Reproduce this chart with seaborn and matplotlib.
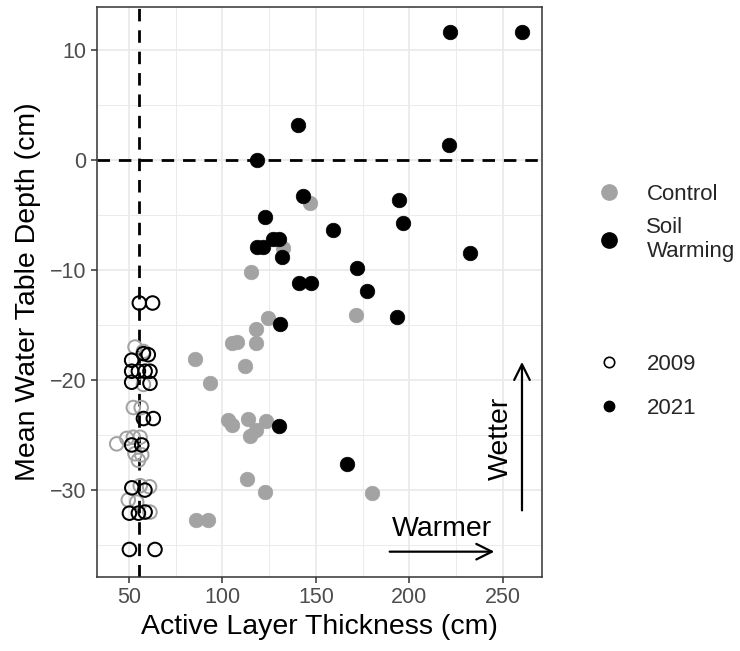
import numpy as np
import pandas as pd
import matplotlib
matplotlib.use("Agg")
import matplotlib.pyplot as plt
from matplotlib.lines import Line2D
import seaborn as sns

# ---- data ----
ctrl21_alt = [146.6, 132.5, 115.3, 171.6, 124.6, 117.9, 105.0, 108.0, 117.9, 85.4, 112.1, 93.4,
              103.0, 105.0, 113.4, 123.2, 118.0, 114.5, 113.0, 123.0, 85.9, 92.1, 180.2]
ctrl21_wtd = [-3.9, -8.0, -10.2, -14.1, -14.4, -15.4, -16.6, -16.5, -16.6, -18.1, -18.7, -20.3,
              -23.6, -24.1, -23.5, -23.7, -24.5, -25.1, -29.0, -30.2, -32.7, -32.7, -30.3]

warm21_alt = [221.9, 260.3, 140.4, 221.4, 118.7, 143.0, 194.3, 196.6, 159.1, 127.0, 130.5, 118.4,
              121.9, 131.8, 232.3, 171.9, 140.7, 147.5, 177.3, 193.4, 131.0, 122.8, 130.0, 166.6]
warm21_wtd = [11.6, 11.6, 3.2, 1.4, 0.0, -3.3, -3.6, -5.7, -6.4, -7.2, -7.2, -7.9,
              -7.9, -8.8, -8.5, -9.8, -11.2, -11.2, -11.9, -14.3, -14.9, -5.2, -24.2, -27.6]

ctrl09_alt = [53.2, 57.7, 57.7, 52.3, 56.5, 43.4, 48.8, 52.3, 55.9, 53.2, 56.8, 55.0,
              56.0, 61.0, 49.6, 54.1, 61.2]
ctrl09_wtd = [-17.0, -17.4, -20.4, -22.5, -22.5, -25.8, -25.3, -25.2, -25.2, -26.7, -26.8, -27.3,
              -29.6, -29.7, -30.9, -31.1, -32.0]

warm09_alt = [55.5, 62.6, 57.7, 60.3, 51.4, 51.4, 55.0, 58.6, 61.2, 51.4, 61.2, 57.7,
              63.0, 51.4, 56.8, 51.5, 58.5, 50.2, 55.0, 58.6, 50.2, 63.9]
warm09_wtd = [-13.0, -13.0, -17.6, -17.7, -18.2, -19.2, -19.2, -19.2, -19.2, -20.2, -20.3, -23.5,
              -23.5, -25.9, -25.9, -29.8, -30.0, -32.1, -32.1, -32.0, -35.4, -35.4]

treat_labels = ["Control", "Soil\nWarming"]
year_labels = ["2009", "2021"]
xticks = [50, 100, 150, 200, 250]
yticks = [-30, -20, -10, 0, 10]
alt_ref = 55.5

rows = []
for alt, wtd, tr, yr in [(ctrl09_alt, ctrl09_wtd, "Control", "2009"),
                         (ctrl21_alt, ctrl21_wtd, "Control", "2021"),
                         (warm09_alt, warm09_wtd, "Soil Warming", "2009"),
                         (warm21_alt, warm21_wtd, "Soil Warming", "2021")]:
    for a, w in zip(alt, wtd):
        rows.append({"ALT": a, "WTD": w, "Treatment": tr, "Year": yr})
df = pd.DataFrame(rows)

# ---- style ----
sns.set_theme(style="white")
plt.rcParams["font.family"] = ["Liberation Sans", "DejaVu Sans"]

colors = {"Control": "#a3a3a3", "Soil Warming": "#000000"}

fig = plt.figure(figsize=(7.4, 6.51), dpi=100)
ax = fig.add_axes([0.1307, 0.1137, 0.7324 - 0.1307, 0.9892 - 0.1137])

# grid
ax.set_xlim(32.7, 271.0)
ax.set_ylim(-37.9, 13.9)
ax.set_xticks(xticks)
ax.set_yticks(yticks)
ax.set_xticks([75, 125, 175, 225], minor=True)
ax.set_yticks([-35, -25, -15, -5, 5], minor=True)
ax.grid(which="major", color="#ebebeb", linewidth=1.3, zorder=0)
ax.grid(which="minor", color="#ebebeb", linewidth=0.7, zorder=0)
ax.set_axisbelow(True)

# reference lines
ax.axhline(0, color="black", linestyle=(0, (4.5, 3.2)), linewidth=2.0, zorder=1)
ax.axvline(alt_ref, color="black", linestyle=(0, (4.5, 3.2)), linewidth=2.0, zorder=1)

# points
for tr in ["Control", "Soil Warming"]:
    sub = df[(df.Treatment == tr) & (df.Year == "2021")]
    sns.scatterplot(data=sub, x="ALT", y="WTD", ax=ax, s=110, color=colors[tr],
                    edgecolor=colors[tr], linewidth=0.5, legend=False, zorder=3)
for tr in ["Control", "Soil Warming"]:
    sub = df[(df.Treatment == tr) & (df.Year == "2009")]
    sns.scatterplot(data=sub, x="ALT", y="WTD", ax=ax, s=95, facecolor="none",
                    edgecolor=colors[tr], linewidth=1.45, legend=False, zorder=3)

# arrows and annotations
ax.annotate("", xy=(247, -35.6), xytext=(188, -35.6),
            arrowprops=dict(arrowstyle="->", lw=1.6, color="black", mutation_scale=28))
ax.annotate("", xy=(260.3, -18.1), xytext=(260.3, -32.1),
            arrowprops=dict(arrowstyle="->", lw=1.6, color="black", mutation_scale=28))
ax.text(217.5, -33.5, "Warmer", ha="center", va="center", fontsize=20.5, color="black")
ax.text(249.0, -25.3, "Wetter", ha="center", va="center", rotation=90, fontsize=20.5, color="black")

# axes styling
for sp in ax.spines.values():
    sp.set_color("#333333")
    sp.set_linewidth(1.1)
ax.tick_params(axis="both", which="major", length=4.5, width=1.1, color="#333333",
               labelsize=15.5, labelcolor="#4d4d4d", pad=3, bottom=True, left=True)
ax.tick_params(axis="both", which="minor", length=0)
ax.set_xlabel("Active Layer Thickness (cm)", fontsize=20.5, color="black", labelpad=4)
ax.set_ylabel("Mean Water Table Depth (cm)", fontsize=20.5, color="black", labelpad=6)

# legends
h1 = [Line2D([], [], linestyle="none", marker="o", markersize=11,
             markerfacecolor=colors["Control"], markeredgecolor=colors["Control"]),
      Line2D([], [], linestyle="none", marker="o", markersize=11,
             markerfacecolor=colors["Soil Warming"], markeredgecolor=colors["Soil Warming"])]
leg1 = fig.legend(h1, treat_labels, loc="upper left", bbox_to_anchor=(0.7955, 0.731),
                  frameon=False, fontsize=16, labelspacing=0.55, handlelength=1.0,
                  handletextpad=1.2, borderaxespad=0)
h2 = [Line2D([], [], linestyle="none", marker="o", markersize=7.5,
             markerfacecolor="none", markeredgecolor="black", markeredgewidth=1.2),
      Line2D([], [], linestyle="none", marker="o", markersize=7.5,
             markerfacecolor="black", markeredgecolor="black")]
leg2 = fig.legend(h2, year_labels, loc="upper left", bbox_to_anchor=(0.7955, 0.470),
                  frameon=False, fontsize=16, labelspacing=1.05, handlelength=1.0,
                  handletextpad=1.2, borderaxespad=0)

fig.savefig("out.png", dpi=100)
